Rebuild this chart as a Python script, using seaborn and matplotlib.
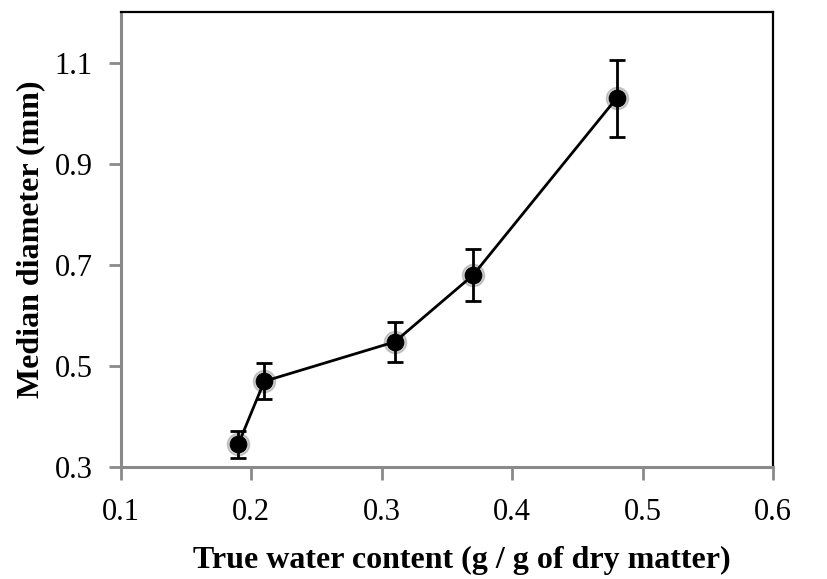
import matplotlib
matplotlib.use("Agg")
import matplotlib.pyplot as plt
import seaborn as sns
import pandas as pd

water_content = [0.19, 0.21, 0.31, 0.37, 0.48]
median_diameter = [0.345, 0.47, 0.548, 0.68, 1.03]
error = [0.027, 0.036, 0.04, 0.052, 0.076]
x_ticks = [0.1, 0.2, 0.3, 0.4, 0.5, 0.6]
y_ticks = [0.3, 0.5, 0.7, 0.9, 1.1]

df = pd.DataFrame({"x": water_content, "y": median_diameter, "err": error})

sns.set_theme(style="white")
plt.rcParams["font.family"] = ["Liberation Serif", "DejaVu Serif"]

fig = plt.figure(figsize=(8.27, 5.79), dpi=100)
ax = fig.add_axes([0.146, 0.193, 0.789, 0.786])

# soft halo under markers
ax.plot(df["x"], df["y"], "o", ms=16, color="#777777", alpha=0.35, zorder=2)
ax.errorbar(df["x"], df["y"], yerr=df["err"], fmt="none", ecolor="black",
            elinewidth=2, capsize=6, capthick=2, zorder=3)
sns.lineplot(data=df, x="x", y="y", ax=ax, color="black", linewidth=2,
             marker="o", markersize=12, markerfacecolor="black",
             markeredgecolor="black", zorder=4, sort=False)

ax.set_xlim(0.1, 0.6)
ax.set_ylim(0.3, 1.2)
ax.set_xticks(x_ticks)
ax.set_xticklabels([f"{v:.1f}" for v in x_ticks])
ax.set_yticks(y_ticks)
ax.set_yticklabels([f"{v:.1f}" for v in y_ticks])

ax.set_xlabel("True water content (g / g of dry matter)", fontsize=23,
              fontweight="bold", color="black")
ax.set_ylabel("Median diameter (mm)", fontsize=23, fontweight="bold",
              color="black")
ax.xaxis.set_label_coords(0.523, -0.172)
ax.yaxis.set_label_coords(-0.116, 0.5)

ax.tick_params(axis="both", which="major", labelsize=22, length=9, width=2,
               color="#8a8a8a", labelcolor="black", direction="out",
               bottom=True, left=True, top=False, right=False)
ax.tick_params(axis="x", pad=13)
ax.tick_params(axis="y", pad=11)

for side in ["left", "bottom"]:
    ax.spines[side].set_color("#8a8a8a")
    ax.spines[side].set_linewidth(2.2)
for side in ["top", "right"]:
    ax.spines[side].set_color("black")
    ax.spines[side].set_linewidth(1.6)

fig.savefig("out.png", dpi=100)
